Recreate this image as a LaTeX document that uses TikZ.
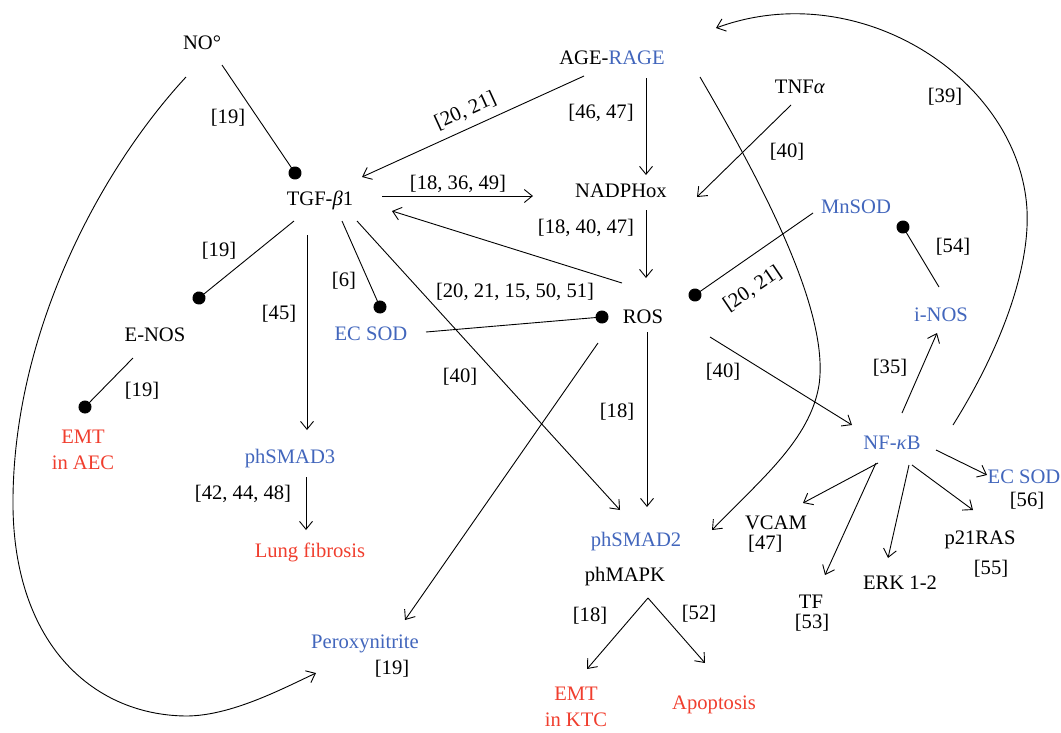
\documentclass[tikz,border=0pt]{standalone}
\usepackage{fontspec}
\setmainfont{Liberation Serif}
\usetikzlibrary{arrows.meta}
\definecolor{cblue}{RGB}{66,102,188}
\definecolor{cred}{RGB}{240,62,46}
\begin{document}
\begin{tikzpicture}[x=1pt,y=-1pt,
  every node/.style={font=\fontsize{20.6}{26}\selectfont, inner sep=0pt, text height=13.5pt, text depth=0pt},
  bl/.style={text=cblue},
  rd/.style={text=cred},
  two/.style={align=center, text height=, text depth=},
  ref/.style={},
  ln/.style={line width=0.9pt},
  arr/.style={line width=0.9pt, -{Straight Barb[length=8pt,width=13pt,line width=0.9pt]}},
  inhib/.style={line width=0.9pt, -{Circle[length=13pt]}, shorten >=-6.5pt}]
\useasboundingbox (0,0) rectangle (1061,732);

% main nodes
\node (no) at (202,43) {NO°};
\node (age) at (612,58) {AGE-\textcolor{cblue}{RAGE}};
\node (tnf) at (800,87) {TNF\textit{α}};
\node (tgf) at (320,199) {TGF-\textit{β}1};
\node (nadph) at (621,191) {NADPHox};
\node[bl] (mnsod) at (856,207) {MnSOD};
\node (ros) at (643,317) {ROS};
\node (enos) at (155,335) {E-NOS};
\node[bl] (ecsodl) at (371,334) {EC SOD};
\node[bl] (inos) at (941,315) {i-NOS};
\node[rd,two] (emtaec) at (83,450) {EMT\\in AEC};
\node[bl] (smad3) at (290,457) {phSMAD3};
\node[rd] (lung) at (310,551) {Lung fibrosis};
\node[bl] (peroxy) at (365,642) {Peroxynitrite};
\node[bl] (nfkb) at (892,443) {NF-\textit{κ}B};
\node[bl] (ecsodr) at (1024,477) {EC SOD};
\node (vcam) at (776,523) {VCAM};
\node (p21) at (980,538) {p21RAS};
\node[bl] (smad2) at (636,540) {phSMAD2};
\node (mapk) at (625,575) {phMAPK};
\node (erk) at (900,583) {ERK 1-2};
\node (tf) at (811,602) {TF};
\node[rd,two] (emtktc) at (576,707) {EMT\\in KTC};
\node[rd] (apop) at (714,703) {Apoptosis};

% reference labels
\node[ref] (r1) at (228,117) {[19]};
\node[ref,rotate=24.5] (r2) at (465,110) {[20, 21]};
\node[ref] (r3) at (458,183) {[18, 36, 49]};
\node[ref] (r4) at (601,112) {[46, 47]};
\node[ref] (r5) at (787,151) {[40]};
\node[ref] (r6) at (945,96) {[39]};
\node[ref] (r7) at (586,227) {[18, 40, 47]};
\node[ref,rotate=34] (r8) at (752,288) {[20, 21]};
\node[ref] (r9) at (953,246) {[54]};
\node[ref] (r10) at (219,250) {[19]};
\node[ref] (r11) at (344,280) {[6]};
\node[ref] (r12) at (279,313) {[45]};
\node[ref] (r13) at (515,291) {[20, 21, 15, 50, 51]};
\node[ref] (r14) at (142,390) {[19]};
\node[ref] (r15) at (460,376) {[40]};
\node[ref] (r16) at (617,411) {[18]};
\node[ref] (r17) at (723,371) {[40]};
\node[ref] (r18) at (890,367) {[35]};
\node[ref] (r19) at (243,493) {[42, 44, 48]};
\node[ref,anchor=west] (r20) at (748,543) {[47]};
\node[ref] (r21) at (1027,500) {[56]};
\node[ref] (r22) at (991,568) {[55]};
\node[ref] (r23) at (812,622) {[53]};
\node[ref] (r24) at (590,615) {[18]};
\node[ref] (r25) at (699,613) {[52]};
\node[ref] (r26) at (392,668) {[19]};

% connectors
\draw[inhib] ([shift={(20,22)}]no.center) -- ([shift={(-25,-26)}]tgf.center);
\draw[arr] ([shift={(-16,34)}]no.center) .. controls (100,170) and (15,330) .. (13,497)
   .. controls (11,640) and (90,715) .. (186,716)
   .. controls (230,716) and (280,690) .. ([shift={(-49,31)}]peroxy.center);
\draw[arr] ([shift={(-28,18)}]age.center) -- ([shift={(42,-22)}]tgf.center);
\draw[arr] ([shift={(62,-3)}]tgf.center) -- ([shift={(-88,5)}]nadph.center);
\draw[arr] ([shift={(-21,-34)}]ros.center) -- ([shift={(72,12)}]tgf.center);
\draw[arr] ([shift={(34,20)}]age.center) -- ([shift={(25,-16)}]nadph.center);
\draw[arr] ([shift={(-9,18)}]tnf.center) -- ([shift={(76,6)}]nadph.center);
\draw[arr] ([shift={(25,19)}]nadph.center) -- ([shift={(3,-39)}]ros.center);
\draw[inhib] ([shift={(-43,6)}]mnsod.center) -- ([shift={(52,-22)}]ros.center);
\draw[inhib] ([shift={(-2,-28)}]inos.center) -- ([shift={(47,20)}]mnsod.center);
\draw[arr] ([shift={(61,-18)}]nfkb.center) .. controls (1000,350) and (1030,270) .. (1027,210)
   .. controls (1020,80) and (860,-25) .. ([shift={(104,-30)}]age.center);
\draw[arr] ([shift={(88,19)}]age.center) .. controls (760,180) and (830,310) .. (819,385)
   .. controls (810,440) and (760,480) .. ([shift={(76,-10)}]smad2.center);
\draw[arr] ([shift={(67,20)}]ros.center) -- ([shift={(-40,-18)}]nfkb.center);
\draw[arr] ([shift={(10,-30)}]nfkb.center) -- ([shift={(-4,18)}]inos.center);
\draw[arr] ([shift={(44,7)}]nfkb.center) -- ([shift={(-37,-2)}]ecsodr.center);
\draw[arr] ([shift={(-14,20)}]nfkb.center) -- ([shift={(27,-20)}]vcam.center);
\draw[arr] ([shift={(-16,20)}]nfkb.center) -- ([shift={(14,-27)}]tf.center);
\draw[arr] ([shift={(17,22)}]nfkb.center) -- ([shift={(-12,-25)}]erk.center);
\draw[arr] ([shift={(20,22)}]nfkb.center) -- ([shift={(-7,-28)}]p21.center);
\draw[arr] ([shift={(4,15)}]ros.center) -- ([shift={(11,-33)}]smad2.center);
\draw[arr] ([shift={(37,22)}]tgf.center) -- ([shift={(-16,-30)}]smad2.center);
\draw[arr] ([shift={(-45,26)}]ros.center) -- ([shift={(40,-22)}]peroxy.center);
\draw[inhib] ([shift={(55,-2)}]ecsodl.center) -- ([shift={(-41,0)}]ros.center);
\draw[inhib] ([shift={(22,22)}]tgf.center) -- ([shift={(9,-27)}]ecsodl.center);
\draw[inhib] ([shift={(-26,22)}]tgf.center) -- ([shift={(44,-37)}]enos.center);
\draw[inhib] ([shift={(-22,23)}]enos.center) -- ([shift={(2,-43)}]emtaec.center);
\draw[arr] ([shift={(-13,36)}]tgf.center) -- ([shift={(17,-27)}]smad3.center);
\draw[arr] ([shift={(16,20)}]smad3.center) -- ([shift={(-4,-21)}]lung.center);
\draw[arr] ([shift={(23,23)}]mapk.center) -- ([shift={(11,-38)}]emtktc.center);
\draw[arr] ([shift={(23,23)}]mapk.center) -- ([shift={(-9,-40)}]apop.center);
\end{tikzpicture}
\end{document}
